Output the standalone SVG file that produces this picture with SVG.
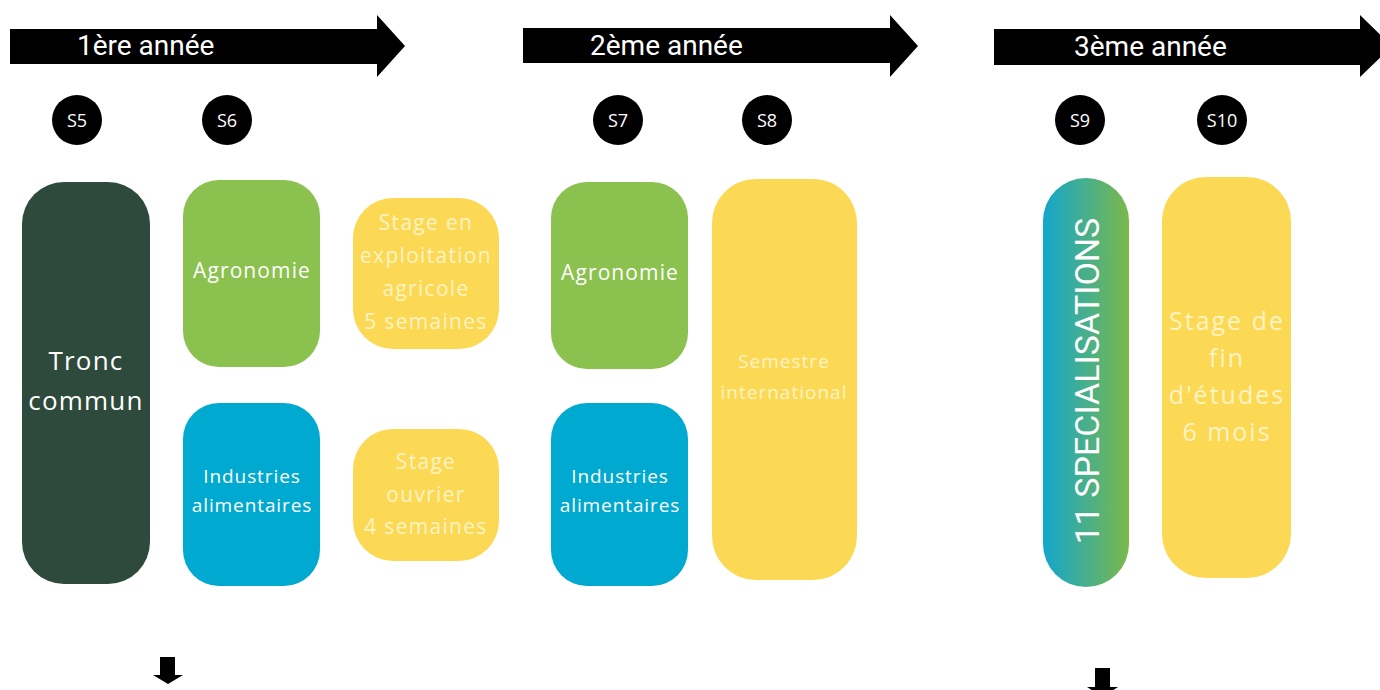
<svg xmlns="http://www.w3.org/2000/svg" width="1380" height="690" viewBox="0 0 1380 690">
<style>
.yr{font-family:Roboto,"Liberation Sans",sans-serif;font-size:28px;fill:#ffffff}
.sem{font-family:"Open Sans","Liberation Sans",sans-serif;font-size:18px;fill:#ffffff;text-anchor:middle}
.lbl{font-family:"Open Sans","Liberation Sans",sans-serif;text-anchor:middle}
.w{fill:#ffffff}
.c{fill:#fdf3c4}
.yel{fill:#fcd955}
.grn{fill:#8bc14e}
.blu{fill:#00a9cf}
</style>
<defs>
<linearGradient id="spec" x1="0" y1="0" x2="1" y2="0">
<stop offset="0" stop-color="#13a6cc"/>
<stop offset="1" stop-color="#7cb84a"/>
</linearGradient>
</defs>
<rect width="1380" height="690" fill="#ffffff"/>
<g id="timeline">
<path d="M10 29 H377 V15 L405 46 L377 77 V64 H10 Z" fill="#000"/>
<text class="yr" x="77" y="55">1ère année</text>
<path d="M523 28 H890 V15 L918 46 L890 77 V63 H523 Z" fill="#000"/>
<text class="yr" x="590" y="55">2ème année</text>
<path d="M994 29 H1360 V15 L1392 46 L1360 77 V65 H994 Z" fill="#000"/>
<text class="yr" x="1074" y="56">3ème année</text>
</g>
<g id="semesters">
<g id="s5"><circle cx="77" cy="120" r="25" fill="#000"/><text class="sem" x="77" y="126.5">S5</text></g>
<g id="s6"><circle cx="227" cy="120" r="25" fill="#000"/><text class="sem" x="227" y="126.5">S6</text></g>
<g id="s7"><circle cx="618" cy="120" r="25" fill="#000"/><text class="sem" x="618" y="126.5">S7</text></g>
<g id="s8"><circle cx="767" cy="120" r="25" fill="#000"/><text class="sem" x="767" y="126.5">S8</text></g>
<g id="s9"><circle cx="1080" cy="120" r="25" fill="#000"/><text class="sem" x="1080" y="126.5">S9</text></g>
<g id="s10"><circle cx="1222" cy="120" r="25" fill="#000"/><text class="sem" x="1222" y="126.5">S10</text></g>
</g>
<g id="tronc-commun">
<rect x="22" y="182" width="128" height="402" rx="42" fill="#2e4a3c"/>
<text class="lbl w" font-size="26" letter-spacing="1.2" x="86" y="370">Tronc</text>
<text class="lbl w" font-size="26" letter-spacing="1.2" x="86" y="410">commun</text>
</g>
<g id="agronomie-s6">
<rect class="grn" x="183" y="180" width="137" height="187" rx="36"/>
<text class="lbl w" font-size="21" letter-spacing="1.1" x="252" y="278">Agronomie</text>
</g>
<g id="industries-s6">
<rect class="blu" x="183" y="403" width="137" height="183" rx="36"/>
<text class="lbl w" font-size="19" letter-spacing="0.9" x="252" y="483">Industries</text>
<text class="lbl w" font-size="19" letter-spacing="0.9" x="252" y="512">alimentaires</text>
</g>
<g id="stage-exploitation">
<rect class="yel" x="353" y="198" width="146" height="151" rx="40"/>
<text class="lbl c" font-size="21" letter-spacing="1.3" x="426" y="230">Stage en</text>
<text class="lbl c" font-size="21" letter-spacing="1.3" x="426" y="263">exploitation</text>
<text class="lbl c" font-size="21" letter-spacing="1.3" x="426" y="296">agricole</text>
<text class="lbl c" font-size="21" letter-spacing="1.3" x="426" y="329">5 semaines</text>
</g>
<g id="stage-ouvrier">
<rect class="yel" x="353" y="429" width="146" height="132" rx="40"/>
<text class="lbl c" font-size="21" letter-spacing="1.3" x="426" y="469">Stage</text>
<text class="lbl c" font-size="21" letter-spacing="1.3" x="426" y="502">ouvrier</text>
<text class="lbl c" font-size="21" letter-spacing="1.3" x="426" y="534">4 semaines</text>
</g>
<g id="agronomie-s7">
<rect class="grn" x="551" y="182" width="137" height="187" rx="36"/>
<text class="lbl w" font-size="21" letter-spacing="1.1" x="620" y="280">Agronomie</text>
</g>
<g id="industries-s7">
<rect class="blu" x="551" y="403" width="137" height="183" rx="36"/>
<text class="lbl w" font-size="19" letter-spacing="0.9" x="620" y="483">Industries</text>
<text class="lbl w" font-size="19" letter-spacing="0.9" x="620" y="512">alimentaires</text>
</g>
<g id="semestre-international">
<rect class="yel" x="712" y="179" width="145" height="401" rx="44"/>
<text class="lbl c" font-size="19" letter-spacing="1" x="784" y="368">Semestre</text>
<text class="lbl c" font-size="19" letter-spacing="1" x="784" y="399">international</text>
</g>
<g id="specialisations">
<rect x="1043" y="178" width="86" height="409" rx="43" fill="url(#spec)"/>
<text font-family="Roboto,'Liberation Sans',sans-serif" font-size="34" fill="#ffffff" text-anchor="middle" transform="translate(1099,381) rotate(-90)">11 SPECIALISATIONS</text>
</g>
<g id="stage-fin-etudes">
<rect class="yel" x="1162" y="177" width="129" height="401" rx="44"/>
<text class="lbl c" font-size="25" letter-spacing="2" x="1227" y="330">Stage de</text>
<text class="lbl c" font-size="25" letter-spacing="2" x="1227" y="367">fin</text>
<text class="lbl c" font-size="25" letter-spacing="2" x="1227" y="404">d'études</text>
<text class="lbl c" font-size="25" letter-spacing="2" x="1227" y="441">6 mois</text>
</g>
<g id="connectors">
<path d="M160 657 H175 V675 H183 L168 684 L153 675 H160 Z" fill="#000"/>
<path d="M1095 668 H1110 V687 H1118 L1102.5 697 L1087 687 H1095 Z" fill="#000"/>
</g>
</svg>
